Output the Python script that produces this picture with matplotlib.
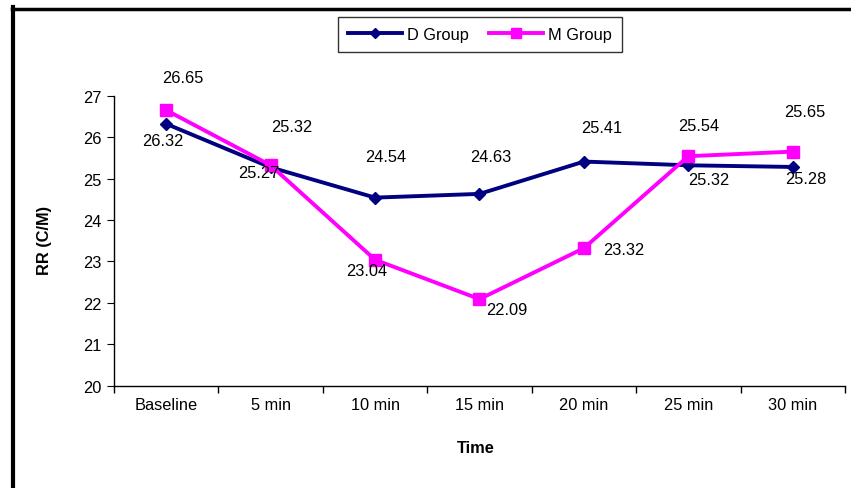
import matplotlib
matplotlib.use("Agg")
import matplotlib.pyplot as plt
from matplotlib.lines import Line2D

plt.rcParams['font.family'] = ['Liberation Sans', 'DejaVu Sans']

categories = ["Baseline", "5 min", "10 min", "15 min", "20 min", "25 min", "30 min"]
d_group = [26.32, 25.27, 24.54, 24.63, 25.41, 25.32, 25.28]
m_group = [26.65, 25.32, 23.04, 22.09, 23.32, 25.54, 25.65]

# label offsets in pixels (style)
d_off = [(-3, -17), (-12, -5), (11, 41), (11, 37), (18, 34), (20, -14), (13, -12)]
m_off = [(17, 33), (21, 39), (-8, -11), (27, -10), (40, -1), (10, 31), (12, 40)]

FS = 11.8
W, H = 851, 489
fig = plt.figure(figsize=(W/100, H/100), dpi=100)
ax = fig.add_axes([114/W, 1-386.7/H, (845-114)/W, (386.7-96.7)/H])

x = list(range(len(categories)))
navy = "#000080"
mag = "#FF00FF"
ax.plot(x, d_group, color=navy, lw=2.8, marker="D", ms=6, label="D Group", zorder=3)
ax.plot(x, m_group, color=mag, lw=2.8, marker="s", ms=8, label="M Group", zorder=3)

for xi, v, o in zip(x, d_group, d_off):
    ax.annotate(f"{v:.2f}", (xi, v), xytext=o, textcoords="offset pixels",
                ha="center", va="center", fontsize=FS)
for xi, v, o in zip(x, m_group, m_off):
    ax.annotate(f"{v:.2f}", (xi, v), xytext=o, textcoords="offset pixels",
                ha="center", va="center", fontsize=FS)

ax.set_xlim(-0.5, len(categories)-0.5)
ax.set_ylim(20, 27)
ax.set_yticks(range(20, 28))
ax.set_xticks([i + 0.5 for i in range(-1, len(categories))], minor=False)
ax.set_xticklabels([""] * (len(categories)+1))
ax.set_xticks(x, minor=True)
ax.set_xticklabels(categories, minor=True)
ax.tick_params(axis="x", which="minor", length=0, pad=8, labelsize=FS)
ax.tick_params(axis="x", which="major", length=5, direction="out", width=1)
ax.tick_params(axis="y", length=5, direction="out", labelsize=FS, pad=4)
for s in ["top", "right"]:
    ax.spines[s].set_visible(False)
ax.spines["left"].set_linewidth(1)
ax.spines["bottom"].set_linewidth(1)

fig.text(45/W, 1-240/H, "RR (C/M)", rotation=90, ha="center", va="center",
         fontsize=FS, fontweight="bold")
fig.text(476/W, 1-449/H, "Time", ha="center", va="center", fontsize=FS, fontweight="bold")

handles = [Line2D([], [], color=navy, lw=2.8, marker="D", ms=5),
           Line2D([], [], color=mag, lw=2.8, marker="s", ms=7)]
leg = fig.legend(handles, ["D Group", "M Group"], loc="center",
                 bbox_to_anchor=(480/W, 1-35.5/H), ncol=2,
                 frameon=True, fancybox=False, fontsize=FS, handlelength=3.3,
                 columnspacing=1.2, borderpad=0.6, handletextpad=0.3)
leg.get_frame().set_edgecolor("black")
leg.get_frame().set_linewidth(1)

# outer frame (left and top)
fig.add_artist(Line2D([13/W, 13/W], [0, 1-8/H], color="black", lw=3, transform=fig.transFigure))
fig.add_artist(Line2D([12/W, 1], [1-9.5/H, 1-9.5/H], color="black", lw=2.5, transform=fig.transFigure))

fig.savefig("out.png", dpi=100)
